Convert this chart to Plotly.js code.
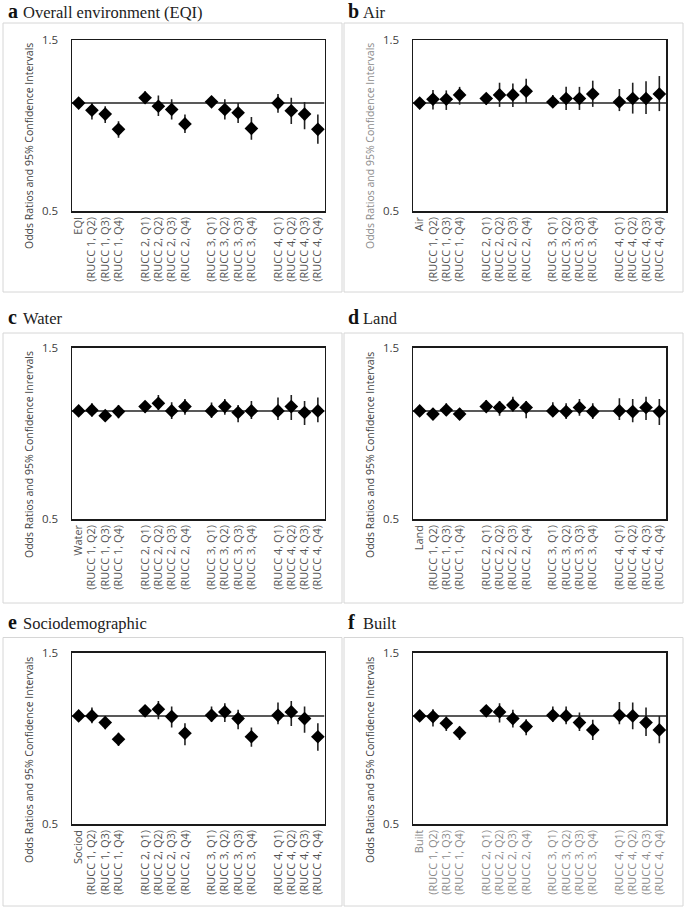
<!DOCTYPE html>
<html>
<head>
<meta charset="utf-8">
<script src="https://cdn.plot.ly/plotly-3.0.1.min.js"></script>
<style>html,body{margin:0;padding:0;background:#fff;}#chart{width:685px;height:909px;}</style>
</head>
<body>
<div id="chart"></div>
<script>
// ---------- DATA ----------
const sharedLabels = ["(RUCC 1, Q2)","(RUCC 1, Q3)","(RUCC 1, Q4)",
  "(RUCC 2, Q1)","(RUCC 2, Q2)","(RUCC 2, Q3)","(RUCC 2, Q4)",
  "(RUCC 3, Q1)","(RUCC 3, Q2)","(RUCC 3, Q3)","(RUCC 3, Q4)",
  "(RUCC 4, Q1)","(RUCC 4, Q2)","(RUCC 4, Q3)","(RUCC 4, Q4)"];
const panelLetters = ["a","b","c","d","e","f"];
const panelTitles = ["Overall environment (EQI)","Air","Water","Land","Sociodemographic","Built"];
const firstLabels = ["EQI","Air","Water","Land","Sociod","Built"];
const yTitles = ["Odds Ratios and 95% Confidence Intervals","Odds Ratios and 95% Confidence Intervals",
  "Odds Ratios and 95% Confidence Inrervals","Odds Ratios and 95% Confidence Intervals",
  "Odds Ratios and 95% Confidence Intervals","Odds Ratios and 95% Confidence Intervals"];
const refOR = 1;
const yTickVals = [0.5, 1.5];
const yTickText = ["0.5","1.5"];

const eqiOR = [1.00,0.955,0.932,0.845,1.035,0.98,0.96,0.875,1.008,0.96,0.94,0.85,1.00,0.952,0.932,0.845];
const eqiLo = [1.00,0.90,0.88,0.80,1.00,0.92,0.90,0.825,0.98,0.90,0.88,0.79,0.94,0.875,0.845,0.77];
const eqiHi = [1.00,1.00,0.98,0.89,1.08,1.05,1.025,0.93,1.035,1.025,1.00,0.915,1.06,1.035,1.007,0.93];

const airOR = [1.00,1.025,1.025,1.054,1.03,1.054,1.054,1.08,1.007,1.03,1.03,1.06,1.007,1.03,1.03,1.06];
const airLo = [1.00,0.96,0.957,0.99,0.99,0.976,0.976,1.00,0.98,0.957,0.957,0.976,0.95,0.935,0.932,0.95];
const airHi = [1.00,1.088,1.085,1.11,1.067,1.14,1.135,1.17,1.054,1.11,1.11,1.155,1.095,1.14,1.15,1.19];

const waterOR = [1.00,1.005,0.97,0.996,1.028,1.05,1.00,1.028,1.00,1.028,0.99,1.00,1.00,1.028,0.99,1.00];
const waterLo = [1.00,0.965,0.938,0.954,0.99,1.006,0.95,0.975,0.955,0.975,0.93,0.95,0.944,0.944,0.914,0.93];
const waterHi = [1.00,1.05,1.006,1.039,1.066,1.108,1.057,1.08,1.055,1.08,1.039,1.066,1.09,1.108,1.066,1.09];

const landOR = [1.00,0.98,1.006,0.98,1.028,1.022,1.039,1.022,1.00,0.996,1.022,0.996,1.00,0.996,1.022,0.996];
const landLo = [1.00,0.95,0.97,0.944,0.996,0.97,0.996,0.954,0.964,0.95,0.97,0.95,0.944,0.93,0.944,0.914];
const landHi = [1.00,1.017,1.05,1.017,1.073,1.066,1.096,1.066,1.057,1.05,1.08,1.05,1.085,1.08,1.096,1.08];

const sociodOR = [1.00,1.00,0.958,0.861,1.033,1.044,0.996,0.895,1.004,1.026,0.983,0.875,1.004,1.026,0.983,0.875];
const sociodLo = [1.00,0.954,0.918,0.825,0.996,0.979,0.928,0.828,0.962,0.962,0.918,0.82,0.948,0.938,0.898,0.80];
const sociodHi = [1.00,1.055,0.996,0.898,1.071,1.10,1.062,0.954,1.062,1.085,1.04,0.928,1.09,1.10,1.062,0.954];

const builtOR = [1.00,0.996,0.954,0.898,1.033,1.026,0.983,0.934,1.004,1.00,0.958,0.914,1.004,1.00,0.958,0.914];
const builtLo = [1.00,0.934,0.908,0.857,0.996,0.958,0.928,0.883,0.962,0.948,0.908,0.857,0.948,0.918,0.879,0.839];
const builtHi = [1.00,1.044,0.996,0.934,1.071,1.085,1.04,0.979,1.062,1.062,1.022,0.975,1.094,1.09,1.055,1.00];

const panelOR = [eqiOR, airOR, waterOR, landOR, sociodOR, builtOR];
const panelLo = [eqiLo, airLo, waterLo, landLo, sociodLo, builtLo];
const panelHi = [eqiHi, airHi, waterHi, landHi, sociodHi, builtHi];

// ---------- LAYOUT GEOMETRY (pixels) ----------
const W = 685, H = 909;
const px = x => x / W;
const py = y => 1 - y / H;
const colPlotX = [[72, 324.5], [413, 666]];
const rowPlotY = [[40, 211], [347.7, 519], [652.7, 824]];
const colBoxX = [[3, 342], [344, 683]];
const rowBoxY = [[23, 292], [333, 603], [637.5, 906]];
const rowTitleY = [12, 318, 623];
const colLetterX = [6, 346];
const colTitleX = [21, 361];
const colYTitleX = [29, 370];
const rowYTitleY = [146, 455, 760];
const yTitleColors = ["#404040","#8a8a8a","#404040","#404040","#404040","#404040"];
const xTickColors = ["#555555","#555555","#555555","#555555","#505050","#8a8a8a"];

const traces = [];
const layout = {
  width: W, height: H,
  margin: {l:0, r:0, t:0, b:0},
  paper_bgcolor: "#ffffff", plot_bgcolor: "#ffffff",
  showlegend: false,
  font: {family: "Open Sans, sans-serif", color: "#404040"},
  shapes: [], annotations: []
};

for (let p = 0; p < 6; p++) {
  const col = p % 2, row = Math.floor(p / 2);
  const sfx = p === 0 ? "" : String(p + 1);
  const xa = "x" + sfx, ya = "y" + sfx;
  const labels = [firstLabels[p]].concat(sharedLabels);
  const xs = labels.map((_, i) => i + Math.floor(i / 4));
  const or = panelOR[p], lo = panelLo[p], hi = panelHi[p];
  const xMax = xs[xs.length - 1] + 0.5;

  // reference line at OR = 1
  traces.push({
    type: "scatter", mode: "lines", xaxis: xa, yaxis: ya,
    x: [-0.5, xMax], y: [refOR, refOR],
    line: {color: "#222222", width: 1.5}, hoverinfo: "skip", cliponaxis: false
  });
  // points with CI
  traces.push({
    type: "scatter", mode: "markers", xaxis: xa, yaxis: ya,
    x: xs, y: or,
    error_y: {type: "data", symmetric: false,
      array: hi.map((h, i) => h - or[i]),
      arrayminus: lo.map((l, i) => or[i] - l),
      color: "#222222", thickness: 1.6, width: 0},
    marker: {symbol: "diamond", size: 10.5, color: "#000000"},
    cliponaxis: false
  });

  layout["xaxis" + sfx] = {
    domain: [px(colPlotX[col][0]), px(colPlotX[col][1])],
    anchor: ya, range: [-0.5, xMax],
    tickvals: xs, ticktext: labels, tickangle: -90,
    tickfont: {family: "Open Sans, sans-serif", size: 11, color: xTickColors[p]},
    showgrid: false, zeroline: false,
    showline: true, mirror: true, linecolor: "#1a1a1a", linewidth: 1.5,
    ticks: "", fixedrange: true
  };
  layout["yaxis" + sfx] = {
    domain: [py(rowPlotY[row][1]), py(rowPlotY[row][0])],
    anchor: xa, type: "log",
    range: [Math.log10(0.5), Math.log10(1.5)],
    tickvals: yTickVals, ticktext: yTickText,
    tickfont: {family: "Open Sans, sans-serif", size: 11.5, color: "#404040"},
    ticklabelstandoff: 10,
    showgrid: false, zeroline: false,
    showline: true, mirror: true, linecolor: "#1a1a1a", linewidth: 1.5,
    ticks: "", fixedrange: true
  };

  // panel box
  layout.shapes.push({
    type: "rect", xref: "paper", yref: "paper", layer: "below",
    x0: px(colBoxX[col][0]), x1: px(colBoxX[col][1]),
    y0: py(rowBoxY[row][1]), y1: py(rowBoxY[row][0]),
    line: {color: "#d6d6d6", width: 1}
  });
  // panel letter (bold)
  layout.annotations.push({
    xref: "paper", yref: "paper", x: px(colLetterX[col]), y: py(rowTitleY[row] - 1),
    xanchor: "left", yanchor: "middle", showarrow: false,
    text: "<b>" + panelLetters[p] + "</b>",
    font: {family: "Liberation Serif, Times New Roman, serif", size: 20, color: "#111111"}
  });
  // panel title (regular)
  layout.annotations.push({
    xref: "paper", yref: "paper", x: px(colTitleX[col]), y: py(rowTitleY[row]),
    xanchor: "left", yanchor: "middle", showarrow: false,
    text: panelTitles[p],
    font: {family: "Liberation Serif, Times New Roman, serif", size: 16.5, color: "#222222", weight: 400}
  });
  // y axis title
  layout.annotations.push({
    xref: "paper", yref: "paper", x: px(colYTitleX[col]), y: py(rowYTitleY[row]),
    xanchor: "center", yanchor: "middle", showarrow: false, textangle: -90,
    text: yTitles[p],
    font: {family: "Open Sans, sans-serif", size: 10.5, color: yTitleColors[p]}
  });
}

Plotly.newPlot("chart", traces, layout, {staticPlot: true});
</script>
</body>
</html>
